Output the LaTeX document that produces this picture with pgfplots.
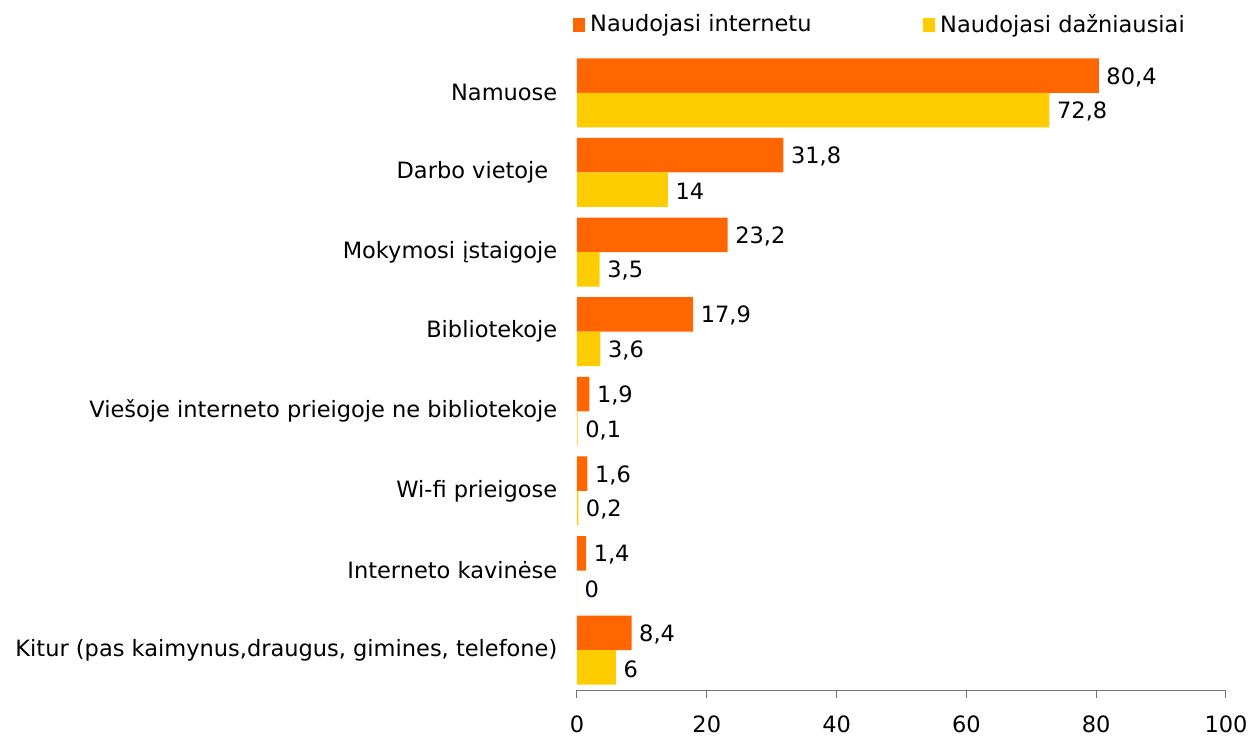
\documentclass[border=0pt]{standalone}
\usepackage{fontspec}
\setmainfont{DejaVu Sans}
\usepackage{pgfplots}
\pgfplotsset{compat=1.18}
\definecolor{corange}{HTML}{FF6600}
\definecolor{cyellow}{HTML}{FFCC00}
\begin{document}
\fontsize{22.5}{26}\selectfont
\begin{tikzpicture}
\useasboundingbox (-577pt,-50pt) rectangle (676pt,690pt);
\begin{axis}[
  at={(0,0)}, anchor=south west,
  scale only axis, width=649pt, height=637pt,
  xbar, bar width=34.5pt,
  xmin=0, xmax=100, ymin=-0.5, ymax=7.5, y dir=reverse,
  xtick={0,20,...,100},
  ytick={0,...,7},
  yticklabels={Namuose, {Darbo vietoje\kern9pt}, Mokymosi įstaigoje, Bibliotekoje,
    Viešoje interneto prieigoje ne bibliotekoje, Wi-fi prieigose,
    Interneto kavinėse, {Kitur (pas kaimynus,draugus, gimines, telefone)}},
  axis x line*=bottom, axis y line*=left,
  x axis line style={-, draw=black!55, line width=1pt},
  y axis line style={draw=none},
  ytick style={draw=none},
  xtick style={draw=black!55, line width=1pt},
  tick align=outside, major tick length=8pt,
  /pgf/number format/assume math mode=true,
  xticklabel style={inner sep=0pt, yshift=-18pt},
  yticklabel style={inner sep=0pt, xshift=-11.5pt, anchor=east},
  nodes near coords,
  nodes near coords style={/pgf/number format/use comma, black, anchor=west, yshift=-1.5pt},
  legend columns=2,
  legend style={at={(axis description cs:0,1)}, anchor=west, xshift=-4pt, yshift=28pt,
    draw=none, fill=none, inner sep=0pt, nodes={inner sep=3pt}},
  legend image code/.code={\fill[#1] (0pt,-7pt) rectangle (12pt,7pt); \path (14pt,0pt);},
]
\addplot[draw=none, fill=corange, bar shift=17.25pt] coordinates {
  (80.4,0) (31.8,1) (23.2,2) (17.9,3) (1.9,4) (1.6,5) (1.4,6) (8.4,7)};
\addplot[draw=none, fill=cyellow, bar shift=-17.25pt] coordinates {
  (72.8,0) (14,1) (3.5,2) (3.6,3) (0.1,4) (0.2,5) (0,6) (6,7)};
\legend{\makebox[330pt][l]{Naudojasi internetu}, Naudojasi dažniausiai}
\end{axis}
\end{tikzpicture}
\end{document}
